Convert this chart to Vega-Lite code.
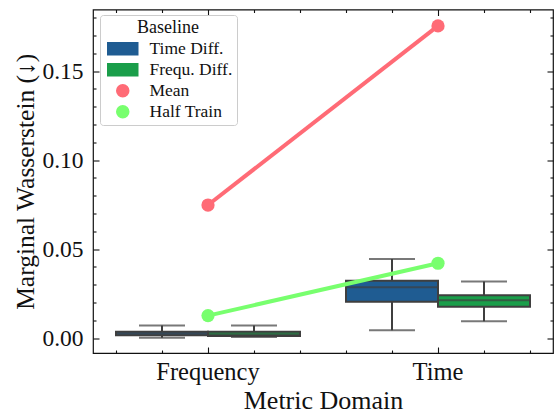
{
  "$schema": "https://vega.github.io/schema/vega-lite/v6.json",
  "width": 460,
  "height": 343.5,
  "autosize": {"type": "none"},
  "padding": {"left": 93, "top": 9.5, "right": 1, "bottom": 65},
  "background": "white",
  "config": {
    "font": "Liberation Serif",
    "view": {"stroke": "#111111", "strokeWidth": 1.2},
    "axis": {
      "labelFont": "Liberation Serif",
      "titleFont": "Liberation Serif",
      "labelColor": "#111111",
      "titleColor": "#111111",
      "labelFontSize": 23.5,
      "titleFontSize": 25,
      "titleFontWeight": "normal",
      "labelOverlap": false,
      "tickCount": 100,
      "grid": false,
      "domain": false,
      "tickColor": "#111111",
      "tickWidth": 1.1
    },
    "legend": {
      "labelFont": "Liberation Serif",
      "titleFont": "Liberation Serif",
      "labelFontSize": 17.5,
      "titleFontSize": 18,
      "titleFontWeight": "normal",
      "labelColor": "#111111",
      "titleColor": "#111111"
    }
  },
  "datasets": {
    "boxes": [
      {"metric": "Frequency", "baseline": "Time Diff.", "min": 0.0002, "q1": 0.0017, "median": 0.0027, "q3": 0.0037, "max": 0.0071},
      {"metric": "Frequency", "baseline": "Frequ. Diff.", "min": 0.0007, "q1": 0.0012, "median": 0.0022, "q3": 0.0036, "max": 0.0071},
      {"metric": "Time", "baseline": "Time Diff.", "min": 0.0045, "q1": 0.0205, "median": 0.0286, "q3": 0.0323, "max": 0.0445},
      {"metric": "Time", "baseline": "Frequ. Diff.", "min": 0.0095, "q1": 0.0177, "median": 0.0213, "q3": 0.0241, "max": 0.0318}
    ],
    "lines": [
      {"metric": "Frequency", "baseline": "Mean", "value": 0.0748},
      {"metric": "Time", "baseline": "Mean", "value": 0.1754},
      {"metric": "Frequency", "baseline": "Half Train", "value": 0.0127},
      {"metric": "Time", "baseline": "Half Train", "value": 0.0421}
    ]
  },
  "resolve": {
    "scale": {"x": "independent"},
    "axis": {"x": "independent", "y": "independent"}
  },
  "layer": [
    {
      "layer": [
        {
          "data": {"name": "boxes"},
          "mark": {"type": "rule", "color": "#3f3f3f", "strokeWidth": 2},
          "encoding": {
            "x": {
              "field": "metric", "type": "nominal", "sort": ["Frequency", "Time"],
              "scale": {"paddingInner": 0.2, "paddingOuter": 0.1},
              "axis": {"title": "Metric Domain", "ticks": false, "labelAngle": 0, "labelFontSize": 24.5, "titleFontSize": 26, "labelPadding": 7, "titlePadding": 4}
            },
            "xOffset": {
              "field": "baseline", "type": "nominal", "sort": ["Time Diff.", "Frequ. Diff."],
              "scale": {"paddingInner": 0, "paddingOuter": 0}
            },
            "y": {
              "field": "min", "type": "quantitative",
              "scale": {"domain": [-0.0083, 0.1846], "nice": false, "zero": false},
              "axis": {
                "title": "Marginal Wasserstein (↓)",
                "values": [0, 0.01, 0.02, 0.03, 0.04, 0.05, 0.06, 0.07, 0.08, 0.09, 0.1, 0.11, 0.12, 0.13, 0.14, 0.15, 0.16, 0.17, 0.18],
                "tickCount": 100,
                "labelExpr": "round(datum.value * 100) % 5 == 0 ? format(datum.value, '.2f') : ''",
                "tickSize": {"condition": {"test": "round(datum.value * 100) % 5 == 0", "value": -6}, "value": -3},
                "labelPadding": 16,
                "titleFontSize": 25.5,
                "titlePadding": 3
              }
            },
            "y2": {"field": "max"}
          }
        },
        {
          "data": {"name": "boxes"},
          "mark": {"type": "tick", "color": "#3f3f3f", "size": 46, "thickness": 2},
          "encoding": {
            "x": {"field": "metric", "type": "nominal", "sort": ["Frequency", "Time"]},
            "xOffset": {"field": "baseline", "type": "nominal", "sort": ["Time Diff.", "Frequ. Diff."]},
            "y": {"field": "max", "type": "quantitative"}
          }
        },
        {
          "data": {"name": "boxes"},
          "mark": {"type": "tick", "color": "#3f3f3f", "size": 46, "thickness": 2},
          "encoding": {
            "x": {"field": "metric", "type": "nominal", "sort": ["Frequency", "Time"]},
            "xOffset": {"field": "baseline", "type": "nominal", "sort": ["Time Diff.", "Frequ. Diff."]},
            "y": {"field": "min", "type": "quantitative"}
          }
        },
        {
          "data": {"name": "boxes"},
          "mark": {"type": "bar", "stroke": "#3f3f3f", "strokeWidth": 2, "opacity": 1},
          "encoding": {
            "x": {"field": "metric", "type": "nominal", "sort": ["Frequency", "Time"]},
            "xOffset": {"field": "baseline", "type": "nominal", "sort": ["Time Diff.", "Frequ. Diff."]},
            "y": {"field": "q1", "type": "quantitative"},
            "y2": {"field": "q3"},
            "color": {
              "field": "baseline", "type": "nominal",
              "scale": {
                "domain": ["Time Diff.", "Frequ. Diff.", "Mean", "Half Train"],
                "range": ["#1f5c92", "#1a9e4a", "#ff6b76", "#78ff6e"]
              },
              "legend": {
                "title": "Baseline",
                "orient": "none",
                "legendX": 7,
                "legendY": 5.5,
                "titleAnchor": "middle",
                "titleAlign": "center",
                "symbolSize": 144,
                "symbolOffset": 10,
                "labelOffset": 18,
                "padding": 4,
                "rowPadding": 2,
                "titlePadding": 3,
                "symbolStrokeWidth": 1.5,
                "fillColor": "rgba(255,255,255,0.8)",
                "strokeColor": "#cccccc",
                "cornerRadius": 3,
                "encode": {
                  "symbols": {
                    "stroke": {"condition": {"test": "indexof(['Mean', 'Half Train'], datum.value) >= 0", "value": "transparent"}, "value": "#3f3f3f"}
                  }
                }
              }
            }
          }
        },
        {
          "data": {"name": "boxes"},
          "mark": {"type": "tick", "color": "#3f3f3f", "size": 92, "thickness": 2},
          "encoding": {
            "x": {"field": "metric", "type": "nominal", "sort": ["Frequency", "Time"]},
            "xOffset": {"field": "baseline", "type": "nominal", "sort": ["Time Diff.", "Frequ. Diff."]},
            "y": {"field": "median", "type": "quantitative"}
          }
        },
        {
          "data": {"name": "lines"},
          "mark": {"type": "line", "strokeWidth": 4},
          "encoding": {
            "x": {"field": "metric", "type": "nominal", "sort": ["Frequency", "Time"]},
            "y": {"field": "value", "type": "quantitative"},
            "color": {"field": "baseline", "type": "nominal", "legend": null}
          }
        },
        {
          "data": {"name": "lines"},
          "mark": {"type": "point", "filled": true, "size": 175, "opacity": 1},
          "encoding": {
            "x": {"field": "metric", "type": "nominal", "sort": ["Frequency", "Time"]},
            "y": {"field": "value", "type": "quantitative"},
            "color": {"field": "baseline", "type": "nominal"},
            "shape": {
              "field": "baseline", "type": "nominal",
              "scale": {
                "domain": ["Time Diff.", "Frequ. Diff.", "Mean", "Half Train"],
                "range": ["M-2.5,-1H2.5V1H-2.5Z", "M-2.5,-1H2.5V1H-2.5Z", "circle", "circle"]
              },
              "legend": {"title": "Baseline"}
            }
          }
        }
      ]
    },
    {
      "data": {"values": [{}]},
      "mark": {"type": "rule", "opacity": 0},
      "encoding": {
        "x": {
          "datum": 0, "type": "quantitative",
          "scale": {"domain": [-0.5, 1.5], "nice": false, "zero": false},
          "axis": {
            "orient": "top", "labels": false, "title": null, "domain": false, "tickCount": 100,
            "values": [-0.4, -0.2, 0, 0.2, 0.4, 0.6, 0.8, 1, 1.2, 1.4],
            "tickSize": {"condition": {"test": "abs(datum.value - round(datum.value)) < 0.01", "value": -6}, "value": -3}
          }
        }
      }
    },
    {
      "data": {"values": [{}]},
      "mark": {"type": "rule", "opacity": 0},
      "encoding": {
        "x": {
          "datum": 0, "type": "quantitative",
          "scale": {"domain": [-0.5, 1.5], "nice": false, "zero": false},
          "axis": {
            "orient": "bottom", "labels": false, "title": null, "domain": false, "tickCount": 100,
            "values": [-0.4, -0.2, 0, 0.2, 0.4, 0.6, 0.8, 1, 1.2, 1.4],
            "tickSize": {"condition": {"test": "abs(datum.value - round(datum.value)) < 0.01", "value": -6}, "value": -3}
          }
        }
      }
    },
    {
      "data": {"values": [{}]},
      "mark": {"type": "rule", "opacity": 0},
      "encoding": {
        "y": {
          "datum": 0, "type": "quantitative",
          "axis": {
            "orient": "right", "labels": false, "title": null, "domain": false, "tickCount": 100,
            "values": [0, 0.01, 0.02, 0.03, 0.04, 0.05, 0.06, 0.07, 0.08, 0.09, 0.1, 0.11, 0.12, 0.13, 0.14, 0.15, 0.16, 0.17, 0.18],
            "tickSize": {"condition": {"test": "round(datum.value * 100) % 5 == 0", "value": -6}, "value": -3}
          }
        }
      }
    }
  ]
}
